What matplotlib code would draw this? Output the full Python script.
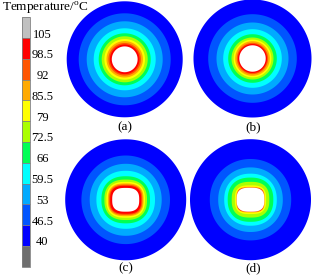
import numpy as np
import matplotlib
matplotlib.use("Agg")
import matplotlib.pyplot as plt
from matplotlib.colors import ListedColormap, BoundaryNorm
from matplotlib.colorbar import ColorbarBase
from matplotlib.transforms import ScaledTranslation

plt.rcParams['font.family'] = ['Liberation Serif', 'DejaVu Serif']
plt.rcParams['mathtext.fontset'] = 'custom'
plt.rcParams['mathtext.rm'] = 'Liberation Serif'

# colour levels of the temperature legend (deg C)
levels = [40, 46.5, 53, 59.5, 66, 72.5, 79, 85.5, 92, 98.5, 105]
level_labels = ["40", "46.5", "53", "59.5", "66", "72.5", "79", "85.5", "92", "98.5", "105"]
band_colors = ["#0000ff", "#0055ff", "#00aaff", "#00ffff", "#00ff55",
               "#aaff00", "#ffff00", "#ffaa00", "#ff5500", "#ff0000"]
under_color = "#6e6e6e"
over_color = "#c0c0c0"

# panels: outer radius of each band (coolest -> hottest), squareness, vertical squash
panel_names = ["(a)", "(b)", "(c)", "(d)"]
radii_a = [58, 46, 38, 31, 26, 23, 20.3, 18.2, 16.3, 14.8]
radii_b = [59, 44.3, 36, 29.3, 24.3, 21, 18.9, 17.3, 15.6, 14.5]
radii_c = [60.5, 44.3, 36, 29.3, 24.3, 21.3, 19.3, 17.8, 16.6, 15.5]
radii_d = [60.5, 40.7, 32.3, 26.3, 22.8, 18.8, 15.6, 14.2, 13.6, 13.2]
square_a = [2, 2, 2, 2, 2, 2, 2, 2, 2, 2]
square_b = [2, 2, 2, 2, 2, 2, 2, 2, 2, 2]
square_c = [2, 2, 2.05, 2.15, 2.3, 2.45, 2.6, 2.7, 2.8, 2.9]
square_d = [2, 2.05, 2.1, 2.2, 2.35, 2.6, 3.0, 3.3, 3.6, 4.0]
squash_a = [1] * 10
squash_b = [1] * 10
squash_c = [1, 1, 1, 0.99, 0.97, 0.95, 0.93, 0.92, 0.91, 0.90]
squash_d = [1, 1, 1, 0.99, 0.97, 0.95, 0.92, 0.90, 0.89, 0.88]
hole_r = [12.9, 13.2, 13.5, 13.8]
hole_square = [2, 2, 2.8, 3.0]
hole_squash = [1, 1, 0.88, 0.87]

W, H = 312, 275
fig = plt.figure(figsize=(W / 100, H / 100), dpi=100)
ax = fig.add_axes([0, 0, 1, 1])
ax.set_xlim(0, W)
ax.set_ylim(H, 0)
ax.set_aspect('equal')
ax.axis('off')

centers = [(124.7, 59.3), (252.5, 58.5), (125.7, 199.8), (250.5, 199.7)]
label_pos = [(125, 127.5), (253.3, 127.5), (125.5, 268), (253.5, 268)]


def superellipse(cx, cy, r, p, sq, n=400):
    t = np.linspace(0, 2 * np.pi, n)
    c, s = np.cos(t), np.sin(t)
    x = r * np.sign(c) * np.abs(c) ** (2 / p)
    y = sq * r * np.sign(s) * np.abs(s) ** (2 / p)
    return cx + x, cy + y


all_radii = [radii_a, radii_b, radii_c, radii_d]
all_square = [square_a, square_b, square_c, square_d]
all_squash = [squash_a, squash_b, squash_c, squash_d]
for k in range(4):
    cx, cy = centers[k]
    for r, p, sq, col in zip(all_radii[k], all_square[k], all_squash[k], band_colors):
        xs, ys = superellipse(cx, cy, r, p, sq)
        ax.fill(xs, ys, color=col, lw=0)
    xs, ys = superellipse(cx, cy, hole_r[k], hole_square[k], hole_squash[k])
    ax.fill(xs, ys, color="white", lw=0)
    ax.text(label_pos[k][0], label_pos[k][1], panel_names[k], fontsize=9.5,
            ha='center', va='center')

# legend
fig.text(2 / W, 1 - 8 / H, "Temperature/$^{\\rm o}$C", fontsize=9.5,
         ha='left', va='center')
cax = fig.add_axes([21.7 / W, 1 - 266.7 / H, 8.3 / W, 249.4 / H])
cmap = ListedColormap(band_colors)
cmap.set_under(under_color)
cmap.set_over(over_color)
norm = BoundaryNorm(levels, cmap.N)
cb = ColorbarBase(cax, cmap=cmap, norm=norm, boundaries=[30] + levels + [115],
                  extend='both', extendrect=True, extendfrac=0.1,
                  ticks=levels, spacing='uniform', drawedges=True)
cb.outline.set_edgecolor("#808080")
cb.outline.set_linewidth(0.6)
cb.dividers.set_color("#808080")
cb.dividers.set_linewidth(0.6)
cax.tick_params(length=0, pad=0, labelsize=9)
cax.set_yticklabels(level_labels)
offset = ScaledTranslation(12.5 / 100, 5 / 100, fig.dpi_scale_trans)
for lbl in cax.get_yticklabels():
    lbl.set_horizontalalignment('center')
    lbl.set_transform(lbl.get_transform() + offset)

fig.savefig("out.png", dpi=100)
